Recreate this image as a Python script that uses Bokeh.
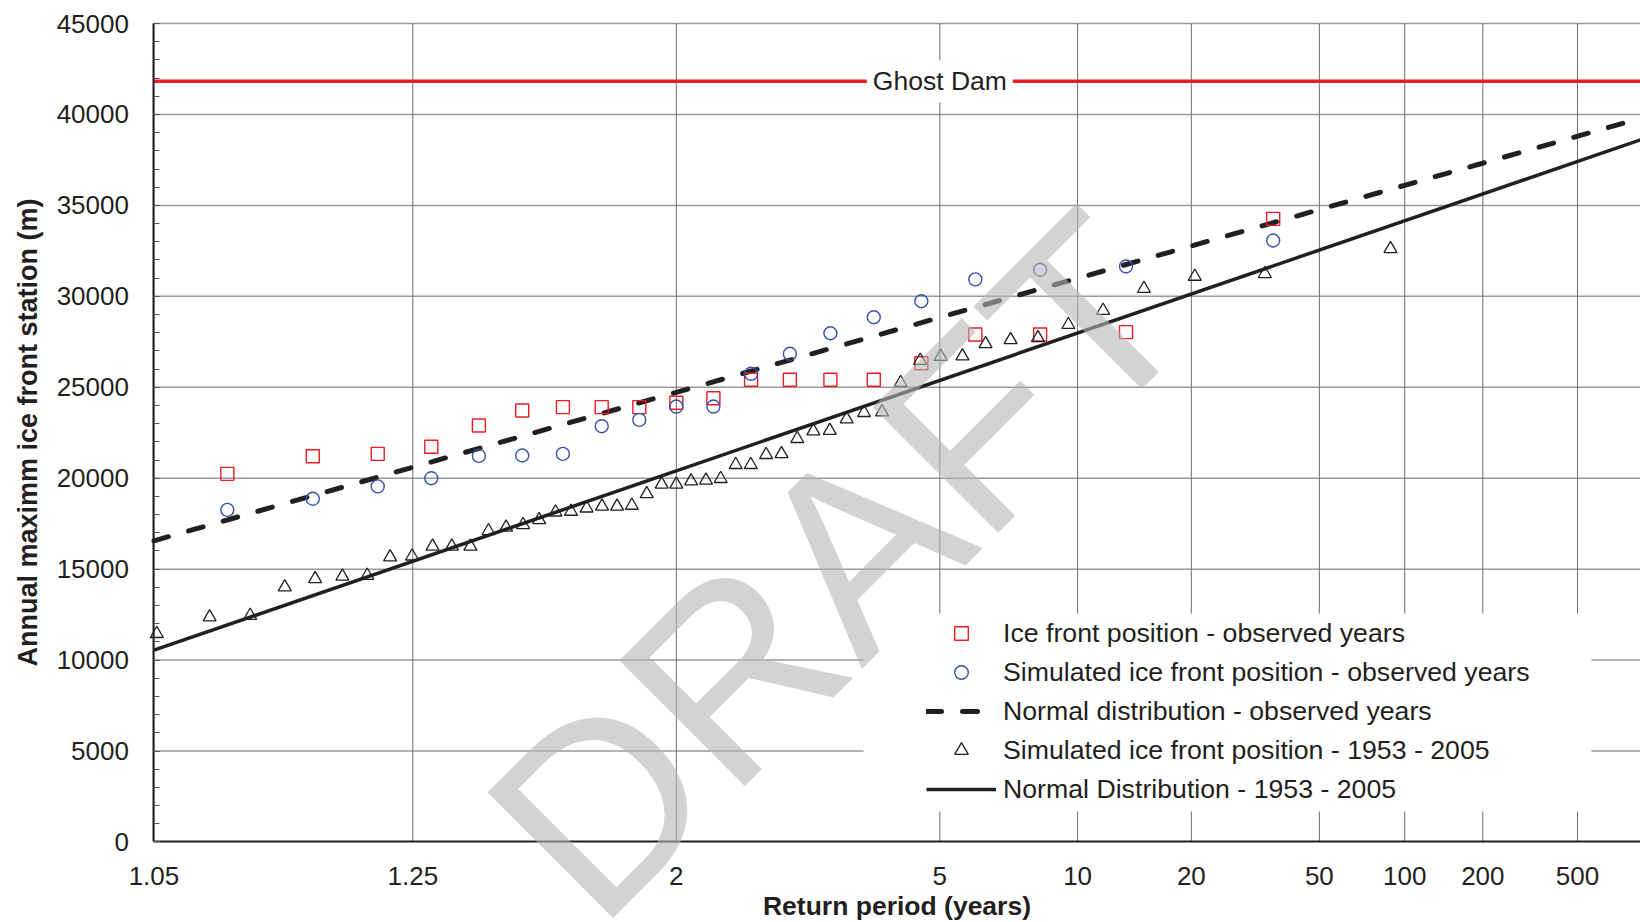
import math
from statistics import NormalDist
from bokeh.plotting import figure
from bokeh.models import (Range1d, FixedTicker, Label, Legend, LegendItem, BoxAnnotation)
from bokeh.embed import file_html
from bokeh.resources import INLINE

# ---------------- data ----------------
tick_return_periods = [1.05, 1.25, 2, 5, 10, 20, 50, 100, 200, 500]
tick_labels = ["1.05", "1.25", "2", "5", "10", "20", "50", "100", "200", "500"]

# observed years (ranked), return period in years
obs_return_period = [1.082, 1.140, 1.205, 1.277, 1.359, 1.452, 1.559, 1.683, 1.828, 2.0,
                     2.208, 2.465, 2.790, 3.212, 3.786, 4.609, 5.889, 8.154, 13.25, 35.33]
obs_ice_front = [20240, 21210, 21340, 21730, 22900, 23720, 23910, 23910, 23910, 24150,
                 24400, 25410, 25410, 25410, 25410, 26320, 27900, 27900, 28030, 34260]
obs_simulated = [18260, 18870, 19550, 20000, 21230, 21250, 21340, 22860, 23210, 23940,
                 23940, 25740, 26840, 27970, 28850, 29730, 30930, 31460, 31640, 33070]

# simulated 1953 - 2005
sim_return_period = [1.051, 1.073, 1.095, 1.118, 1.142, 1.167, 1.193, 1.220, 1.249, 1.279,
                     1.310, 1.343, 1.378, 1.415, 1.454, 1.494, 1.538, 1.583, 1.632, 1.684,
                     1.739, 1.797, 1.860, 1.928, 2.0, 2.078, 2.163, 2.254, 2.354, 2.463,
                     2.583, 2.714, 2.860, 3.023, 3.205, 3.410, 3.644, 3.912, 4.222, 4.586,
                     5.019, 5.542, 6.186, 7.0, 8.061, 9.5, 11.57, 14.78, 20.46, 33.25, 88.67]
sim_ice_front = [11450, 12360, 12450, 14010, 14470, 14600, 14650, 15660, 15710, 16250,
                 16250, 16250, 17100, 17300, 17440, 17710, 18130, 18170, 18350, 18450,
                 18450, 18500, 19140, 19660, 19660, 19840, 19880, 19970, 20740, 20740,
                 21290, 21340, 22170, 22590, 22620, 23250, 23600, 23630, 25250, 26470,
                 26690, 26710, 27390, 27610, 27720, 28440, 29220, 30420, 31090, 31240, 32610]

# fitted normal distributions (straight lines on probability paper)
fit_return_period = [1.05, 1000]
fit_observed = [16560, 39840]
fit_simulated = [10545, 38670]

ghost_dam_station = 41830

y_min, y_max = 0, 45000
T_min, T_max = 1.05, 1000

# ---------------- helpers / style ----------------
ND = NormalDist()


def probit(T):
    return ND.inv_cdf(1.0 - 1.0 / T)


FONT = "Liberation Sans"
INK = "#231f20"
RED = "#ec1c24"
BLUE = "#3453a8"

x_axis_at = probit(T_min)
x_view_end = 3.0794

# The frame covers the whole canvas (so the DRAFT watermark and edge labels are not
# cut); both axes are pinned at the chart's origin with fixed_location.
p = figure(width=1640, height=922, output_backend="svg", toolbar_location=None,
           x_range=Range1d(x_axis_at - 0.4901, x_view_end),
           y_range=Range1d(-4426, 46265),
           min_border_left=0, min_border_right=0, min_border_top=0,
           min_border_bottom=0)
p.outline_line_color = None
p.background_fill_color = "white"
p.border_fill_color = "white"

# axes
x_ticks = [probit(t) for t in tick_return_periods]
p.xaxis.ticker = FixedTicker(ticks=x_ticks)
p.xaxis.major_label_overrides = {xt: lab for xt, lab in zip(x_ticks, tick_labels)}
p.xaxis.fixed_location = y_min
p.xaxis.bounds = (x_axis_at, x_view_end)
y_ticks = list(range(y_min, y_max + 1, 5000))
p.yaxis.ticker = FixedTicker(ticks=y_ticks, minor_ticks=list(range(y_min, y_max + 1, 1000)))
p.yaxis.formatter.use_scientific = False
p.yaxis.fixed_location = x_axis_at
p.yaxis.bounds = (y_min, y_max)

for ax in (p.xaxis[0], p.yaxis[0]):
    ax.major_label_text_font = FONT
    ax.major_label_text_font_size = "26px"
    ax.major_label_text_color = INK
    ax.axis_label_text_font = FONT
    ax.axis_label_text_font_style = "bold"
    ax.axis_label_text_color = INK
    ax.axis_line_color = INK
    ax.axis_line_width = 2
    ax.major_tick_out = 0
    ax.minor_tick_out = 0

p.xaxis.axis_label = "Return period (years)"
p.xaxis.axis_label_text_font_size = "26.5px"
p.xaxis.major_tick_in = 0
p.xaxis.minor_tick_in = 0
p.xaxis.major_label_standoff = 25
p.xaxis.axis_label_standoff = 3

p.yaxis.axis_label = "Annual maximm ice front station (m)"
p.yaxis.axis_label_text_font_size = "27px"
p.yaxis.major_tick_in = 6
p.yaxis.minor_tick_in = 6
p.yaxis.major_tick_line_color = "#555555"
p.yaxis.minor_tick_line_color = "#555555"
p.yaxis.major_label_standoff = 25
p.yaxis.axis_label_standoff = 10

# grid drawn only over the chart area
p.xgrid.visible = False
p.ygrid.visible = False
h_lines = [v for v in y_ticks if v != y_min]
p.segment(x0=[x_axis_at] * len(h_lines), y0=h_lines, x1=[x_view_end] * len(h_lines),
          y1=h_lines, line_color="#9a9a9a", line_width=1.5, level="underlay")
p.segment(x0=x_ticks, y0=[y_min] * len(x_ticks), x1=x_ticks, y1=[y_max] * len(x_ticks),
          line_color="#6e6e6e", line_width=1, level="underlay")

# ---------------- glyphs ----------------
# Ghost Dam reference line
p.line([probit(T_min), probit(T_max)], [ghost_dam_station, ghost_dam_station],
       line_color=RED, line_width=3.5)

r_dash = p.line([probit(t) for t in fit_return_period], fit_observed,
                line_color=INK, line_width=5, line_dash="15 21", line_cap="round")
r_solid = p.line([probit(t) for t in fit_return_period], fit_simulated,
                 line_color=INK, line_width=3.5)
r_sq = p.scatter([probit(t) for t in obs_return_period], obs_ice_front, marker="square",
                 size=13, fill_color=None, line_color=RED, line_width=1.4)
r_ci = p.scatter([probit(t) for t in obs_return_period], obs_simulated, marker="circle",
                 size=13, fill_color=None, line_color=BLUE, line_width=1.4)
r_tri = p.scatter([probit(t) for t in sim_return_period], sim_ice_front, marker="triangle",
                  size=13, fill_color=None, line_color=INK, line_width=1.3)

p.add_layout(Label(x=probit(5), y=ghost_dam_station, text="Ghost Dam", text_align="center",
                   text_baseline="middle", text_font=FONT, text_font_size="26.5px",
                   text_color=INK, background_fill_color="white", padding=6))

# white area behind the legend (hides the grid there)
p.add_layout(BoxAnnotation(left=0.598, right=2.923, top=12560, bottom=1680,
                           fill_color="white", fill_alpha=1, line_color=None))

legend = Legend(items=[
    LegendItem(label="Ice front position - observed years", renderers=[r_sq]),
    LegendItem(label="Simulated ice front position - observed years", renderers=[r_ci]),
    LegendItem(label="Normal distribution - observed years", renderers=[r_dash]),
    LegendItem(label="Simulated ice front position - 1953 - 2005", renderers=[r_tri]),
    LegendItem(label="Normal Distribution - 1953 - 2005", renderers=[r_solid]),
], location=(926, 116), padding=0, margin=0, spacing=5, glyph_width=70, glyph_height=34,
    label_height=34, label_standoff=7, border_line_color=None, background_fill_alpha=0,
    label_text_font=FONT, label_text_font_size="26.7px", label_text_color=INK)
p.add_layout(legend)

# DRAFT watermark
p.add_layout(Label(x=0.519, y=15200, text="DRAFT", angle=math.pi / 4,
                   text_font=FONT, text_font_size="258px", text_color="#b6b6b6",
                   text_alpha=0.6, text_align="center", text_baseline="alphabetic"))

open("out.html", "w").write(file_html(p, INLINE))
